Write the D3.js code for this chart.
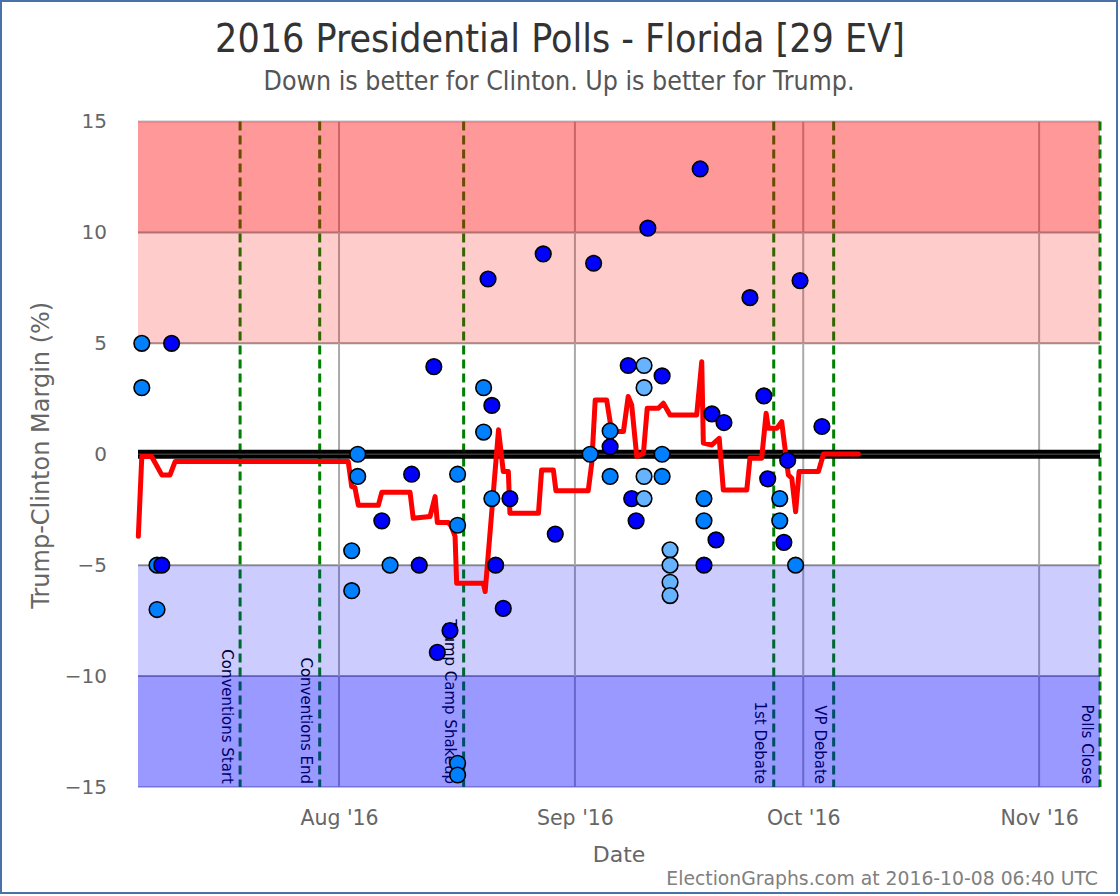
<!DOCTYPE html>
<html><head><meta charset="utf-8">
<script src="https://cdn.jsdelivr.net/npm/d3@7/dist/d3.min.js"></script>
<style>body{margin:0;background:#fff}</style>
</head><body>
<svg id="chart" width="1120" height="896"></svg>
<script>
// ---------- data ----------
const pollDates = [
 "2016-07-06T02","2016-07-06T02","2016-07-08T02","2016-07-08T02","2016-07-08T17","2016-07-10T00",
 "2016-08-02T16","2016-08-02T16","2016-08-03T11","2016-08-03T11","2016-08-06T15","2016-08-07T17",
 "2016-08-10T13","2016-08-11T13","2016-08-13T11","2016-08-13T22","2016-08-15T14",
 "2016-08-16T14","2016-08-16T14","2016-08-16T14","2016-08-16T14",
 "2016-08-20T00","2016-08-20T00","2016-08-20T14","2016-08-21T02","2016-08-21T02","2016-08-21T14",
 "2016-08-22T14","2016-08-23T11","2016-08-27T20","2016-08-29T10",
 "2016-09-03T00","2016-09-03T11","2016-09-05T15","2016-09-05T15","2016-09-05T15",
 "2016-09-08T00","2016-09-08T11","2016-09-09T01",
 "2016-09-10T02","2016-09-10T02","2016-09-10T02","2016-09-10T02","2016-09-10T14",
 "2016-09-12T11","2016-09-12T11","2016-09-12T11",
 "2016-09-13T12","2016-09-13T12","2016-09-13T12","2016-09-13T12",
 "2016-09-17T11","2016-09-17T23","2016-09-17T23","2016-09-17T23",
 "2016-09-19T00","2016-09-19T13","2016-09-20T14","2016-09-24T00","2016-09-25T20","2016-09-26T08",
 "2016-09-27T22","2016-09-27T22","2016-09-28T11","2016-09-28T23","2016-09-30T00","2016-09-30T14",
 "2016-10-03T11"
];
const pollMargins = [
 5, 3, -5, -7, -5, 5,
 -4.35, -6.15, 0, -1, -3, -5,
 -0.9, -5, 3.95, -8.93, -7.95,
 -0.9, -3.2, -13.93, -14.46,
 3, 1, 7.9, 2.2, -2, -5,
 -6.95, -2, 9.03, -3.6,
 0, 8.61, 1.05, 0.34, -1,
 4, -2, -3,
 4, 3, -1, -2, 10.19,
 3.53, 0, -1,
 -4.31, -5, -5.77, -6.37,
 12.86, -2, -3, -5,
 1.82, -3.86, 1.43, 7.06, 2.63, -1.11,
 -2, -3, -3.97, -0.27, -5, 7.83,
 1.25
];
// d = dark blue, m = medium blue, l = light blue
const pollShades = [
 "m","m","m","m","d","d",
 "m","m","m","m","d","m",
 "d","d","d","d","d",
 "m","m","m","m",
 "m","m","d","d","m","d",
 "d","d","d","d",
 "m","d","m","d","m",
 "d","d","d",
 "l","l","l","l","d",
 "d","m","m",
 "l","l","l","l",
 "d","m","m","d",
 "d","d","d","d","d","d",
 "m","m","d","d","m","d",
 "d"
];

const avgDates = [
 "2016-07-05T15","2016-07-06T02","2016-07-07T09","2016-07-08T17","2016-07-09T19","2016-07-10T11",
 "2016-08-02T05","2016-08-02T16","2016-08-03T02","2016-08-03T13","2016-08-06T04","2016-08-06T15",
 "2016-08-10T08","2016-08-10T18","2016-08-12T23","2016-08-13T15","2016-08-13T22","2016-08-15T09",
 "2016-08-15T19","2016-08-16T06","2016-08-16T11","2016-08-19T23","2016-08-20T05","2016-08-21T23",
 "2016-08-22T14","2016-08-23T06","2016-08-23T11","2016-08-27T05","2016-08-27T15","2016-08-29T04",
 "2016-08-29T12","2016-09-02T18","2016-09-03T05","2016-09-03T16","2016-09-05T04","2016-09-05T20",
 "2016-09-07T09","2016-09-08T00","2016-09-08T11","2016-09-09T03","2016-09-10T00","2016-09-10T12",
 "2016-09-11T23","2016-09-12T15","2016-09-13T12","2016-09-17T00","2016-09-17T16","2016-09-17T21",
 "2016-09-19T00","2016-09-19T23","2016-09-20T12","2016-09-23T14","2016-09-24T00","2016-09-25T13",
 "2016-09-26T03","2016-09-26T10","2016-09-27T13","2016-09-28T04","2016-09-29T01","2016-09-29T12",
 "2016-09-30T00","2016-09-30T11","2016-10-03T00","2016-10-03T16","2016-10-08T06"
];
const avgMargins = [
 -3.7, -0.1, -0.1, -0.93, -0.93, -0.33,
 -0.33, -1.46, -1.5, -2.3, -2.3, -1.71,
 -1.71, -2.89, -2.81, -1.91, -3.08, -3.08,
 -3.26, -3.71, -5.82, -5.82, -6.19, 1.1,
 -0.78, -0.78, -2.66, -2.66, -0.71, -0.71,
 -1.64, -1.64, -0.41, 2.45, 2.45, 1.02,
 1.02, 2.6, 2.22, -0.1, 0.04, 2.07,
 2.07, 2.3, 1.77, 1.77, 4.17, 0.5,
 0.42, 0.72, -1.61, -1.61, -0.18, -0.18,
 1.85, 1.17, 1.17, 1.47, -0.93, -1.08,
 -2.59, -0.78, -0.78, 0.01, 0.01
];

const eventNames = ["Conventions Start","Conventions End","Trump Camp Shakeup","1st Debate","VP Debate","Polls Close"];
const eventDates = ["2016-07-19T00","2016-07-29T11","2016-08-17T09","2016-09-27T03","2016-10-05T00","2016-11-09T00"];

const yTicks = [-15, -10, -5, 0, 5, 10, 15];
const xTickDates = ["2016-08-01T00","2016-09-01T00","2016-10-01T00","2016-11-01T00"];
const xTickLabels = ["Aug '16","Sep '16","Oct '16","Nov '16"];

const bandLows  = [10, 5, -10, -15];
const bandHighs = [15, 10, -5, -10];
const bandColors = ["rgba(255,0,0,0.4)","rgba(255,0,0,0.2)","rgba(0,0,255,0.2)","rgba(0,0,255,0.4)"];

const shadeColors = {d: "#0000ff", m: "#0080ff", l: "#66b3ff"};

// ---------- drawing ----------
const parse = d3.utcParse("%Y-%m-%dT%H");
const svg = d3.select("#chart");
const W = 1120, H = 896;
const pLeft = 138, pRight = 1100, pTop = 121.5, pBottom = 787;
const FONT = "'DejaVu Sans', sans-serif";
const FONT_C = "'DejaVu Sans Condensed', 'DejaVu Sans', sans-serif";

const x = d3.scaleUtc()
  .domain([parse("2016-07-05T14"), parse("2016-11-09T00")])
  .range([pLeft, pRight]);
const y = d3.scaleLinear().domain([-15, 15]).range([pBottom, pTop]);

svg.append("rect").attr("width", W).attr("height", H).attr("fill", "#fff");

// horizontal grid
svg.append("g").selectAll("line").data(yTicks.filter(v => v !== 0)).join("line")
  .attr("x1", pLeft).attr("x2", pRight)
  .attr("y1", d => y(d)).attr("y2", d => y(d))
  .attr("stroke", d => Math.abs(d) === 15 ? "#c0c0c8" : "#999")
  .attr("stroke-width", 2);

// vertical month grid
svg.append("g").selectAll("line").data(xTickDates).join("line")
  .attr("x1", d => x(parse(d))).attr("x2", d => x(parse(d)))
  .attr("y1", pTop).attr("y2", pBottom)
  .attr("stroke", "#aaa").attr("stroke-width", 2);

// events
const ev = svg.append("g");
eventNames.forEach((name, i) => {
  const ex = x(parse(eventDates[i]));
  ev.append("line")
    .attr("x1", ex).attr("x2", ex).attr("y1", pTop).attr("y2", pBottom)
    .attr("stroke", "#008000").attr("stroke-width", 3)
    .attr("stroke-dasharray", "9,5");
  ev.append("text")
    .attr("transform", `translate(${ex - 18.5},${pBottom - 3}) rotate(90)`)
    .attr("text-anchor", "end")
    .attr("font-family", FONT)
    .attr("font-size", 15)
    .attr("fill", "#000")
    .text(name);
});

// bands
svg.append("g").selectAll("rect").data(bandLows).join("rect")
  .attr("x", pLeft).attr("width", pRight - pLeft)
  .attr("y", (d, i) => y(bandHighs[i]))
  .attr("height", (d, i) => y(d) - y(bandHighs[i]))
  .attr("fill", (d, i) => bandColors[i]);

// zero line
svg.append("line")
  .attr("x1", pLeft).attr("x2", pRight).attr("y1", y(0)).attr("y2", y(0))
  .attr("stroke", "#000").attr("stroke-width", 9);
svg.append("line")
  .attr("x1", pLeft).attr("x2", pRight).attr("y1", y(0)).attr("y2", y(0))
  .attr("stroke", "#3a3a3a").attr("stroke-width", 1.5);

// average line
const avg = avgDates.map((d, i) => [parse(d), avgMargins[i]]);
svg.append("path")
  .datum(avg)
  .attr("d", d3.line().x(d => x(d[0])).y(d => y(d[1])))
  .attr("fill", "none").attr("stroke", "#ff0000").attr("stroke-width", 5)
  .attr("stroke-linejoin", "round").attr("stroke-linecap", "round");

// polls
svg.append("g").selectAll("circle").data(pollDates).join("circle")
  .attr("cx", d => x(parse(d)))
  .attr("cy", (d, i) => y(pollMargins[i]))
  .attr("r", 7.8)
  .attr("fill", (d, i) => shadeColors[pollShades[i]])
  .attr("stroke", "#000").attr("stroke-width", 1.6);

// axes
const yAxis = svg.append("g")
  .attr("transform", `translate(${pLeft - 31},0)`)
  .call(d3.axisLeft(y).tickValues(yTicks).tickSize(0).tickPadding(0).tickFormat(d3.format("d")));
yAxis.select(".domain").remove();
yAxis.selectAll("text").attr("font-family", FONT).attr("font-size", 20).attr("fill", "#666");

const xAxis = svg.append("g")
  .attr("transform", `translate(0,${pBottom + 23})`)
  .call(d3.axisBottom(x).tickValues(xTickDates.map(parse)).tickSize(0).tickPadding(0)
        .tickFormat((d, i) => xTickLabels[i]));
xAxis.select(".domain").remove();
xAxis.selectAll("text").attr("font-family", FONT).attr("font-size", 20.5).attr("fill", "#666");

// titles
svg.append("text").attr("x", 560).attr("y", 52).attr("text-anchor", "middle")
  .attr("font-family", FONT_C).attr("font-size", 39)
  .attr("fill", "#333").text("2016 Presidential Polls - Florida [29 EV]");
svg.append("text").attr("x", 559).attr("y", 90).attr("text-anchor", "middle")
  .attr("font-family", FONT_C).attr("font-size", 26.5)
  .attr("fill", "#555").text("Down is better for Clinton. Up is better for Trump.");
svg.append("text").attr("x", (pLeft + pRight) / 2).attr("y", 862).attr("text-anchor", "middle")
  .attr("font-family", FONT).attr("font-size", 22)
  .attr("fill", "#666").text("Date");
svg.append("text").attr("transform", `translate(49,${(pTop + pBottom) / 2 + 1}) rotate(-90)`)
  .attr("text-anchor", "middle")
  .attr("font-family", FONT).attr("font-size", 24)
  .attr("fill", "#666").text("Trump-Clinton Margin (%)");
svg.append("text").attr("x", 1098).attr("y", 885).attr("text-anchor", "end")
  .attr("font-family", FONT).attr("font-size", 18.8)
  .attr("fill", "#808080").text("ElectionGraphs.com at 2016-10-08 06:40 UTC");

// frame
svg.append("rect").attr("x", 1).attr("y", 1).attr("width", 1116).attr("height", 892)
  .attr("fill", "none").attr("stroke", "#4a72a8").attr("stroke-width", 2);
</script>
</body></html>
